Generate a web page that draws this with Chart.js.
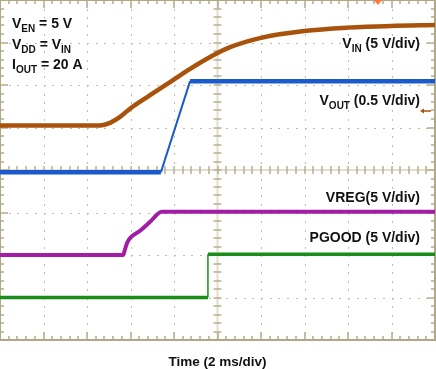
<!DOCTYPE html>
<html>
<head>
<meta charset="utf-8">
<script src="https://cdn.jsdelivr.net/npm/chart.js@4.4.0/dist/chart.umd.min.js"></script>
<style>
  body { margin: 0; background: #fff; }
</style>
</head>
<body>
<canvas id="scopeChart" width="436" height="369"></canvas>
<script>
// traces (x = time divisions, y = vertical divisions from bottom)
const vinX = [0, 2.3, 2.53, 2.76, 3.01, 3.45, 3.91, 4.37, 4.83, 5.29, 6.0, 6.99, 8.0, 8.99, 10];
const vinY = [5.05, 5.05, 5.11, 5.25, 5.46, 5.76, 6.07, 6.38, 6.66, 6.89, 7.11, 7.27, 7.35, 7.39, 7.41];

const voutX = [0, 3.7, 4.37, 10];
const voutY = [3.95, 3.95, 6.09, 6.09];

const vregX = [0, 2.83, 2.87, 2.92, 2.99, 3.22, 3.45, 3.72, 10];
const vregY = [2.0, 2.0, 2.12, 2.28, 2.4, 2.57, 2.78, 3.02, 3.02];

const pgoodX = [0, 4.78, 4.78, 10];
const pgoodY = [1.0, 1.0, 2.02, 2.02];

// text
const noteLines = [
  [['V', 0], ['EN', 1], [' = 5 V', 0]],
  [['V', 0], ['DD', 1], [' = V', 0], ['IN', 1]],
  [['I', 0], ['OUT', 1], [' = 20 A', 0]],
];
const traceLabels = [
  [['V', 0], ['IN', 1], [' (5 V/div)', 0]],
  [['V', 0], ['OUT', 1], [' (0.5 V/div)', 0]],
  [['VREG(5 V/div)', 0]],
  [['PGOOD (5 V/div)', 0]],
];
const xTitle = 'Time (2 ms/div)';

const toPoints = (xs, ys) => xs.map((x, i) => ({ x, y: ys[i] }));

const mainFont = 'bold 14px "Liberation Sans", Arial, sans-serif';
const subFont = 'bold 10px "Liberation Sans", Arial, sans-serif';

// width of a text with subscripts
const measureParts = (ctx, parts) => {
  let w = 0;
  parts.forEach(([t, sub]) => {
    ctx.font = sub ? subFont : mainFont;
    w += ctx.measureText(t).width;
  });
  return w;
};

const drawParts = (ctx, parts, x, y) => {
  parts.forEach(([t, sub]) => {
    ctx.font = sub ? subFont : mainFont;
    ctx.fillText(t, x, sub ? y + 4 : y);
    x += ctx.measureText(t).width;
  });
};

// scope graticule
const scopeGrid = {
  id: 'scopeGrid',
  beforeDatasetsDraw(chart) {
    const { ctx, chartArea: a, scales: { x, y } } = chart;
    ctx.save();

    // dotted grid lines
    ctx.fillStyle = '#c2bca4';
    for (let i = 1; i < 10; i++) {
      if (i === 5) continue;
      const px = Math.round(x.getPixelForValue(i));
      for (let j = 1; j < 40; j++) {
        ctx.fillRect(px, Math.round(y.getPixelForValue(j / 5)), 1, 2);
      }
    }
    for (let i = 1; i < 8; i++) {
      if (i === 4) continue;
      const py = Math.round(y.getPixelForValue(i));
      for (let j = 1; j < 50; j++) {
        ctx.fillRect(Math.round(x.getPixelForValue(j / 5)), py, 2, 1);
      }
    }

    // center crosshair
    const cx = x.getPixelForValue(5);
    const cy = y.getPixelForValue(4);
    ctx.fillStyle = '#e2ddcf';
    ctx.fillRect(cx - 1, a.top, 2, a.bottom - a.top);
    ctx.fillRect(a.left, cy - 1, a.right - a.left, 2);

    ctx.strokeStyle = '#b8b090';
    ctx.lineWidth = 1.5;
    ctx.beginPath();
    for (let j = 1; j < 40; j++) {
      const py = Math.round(y.getPixelForValue(j / 5));
      ctx.moveTo(cx - 4, py);
      ctx.lineTo(cx + 4, py);
    }
    for (let j = 1; j < 50; j++) {
      const px = Math.round(x.getPixelForValue(j / 5));
      ctx.moveTo(px, cy - 4);
      ctx.lineTo(px, cy + 4);
    }
    ctx.stroke();

    // border ticks
    ctx.strokeStyle = '#b4ac8c';
    ctx.lineWidth = 1.5;
    ctx.beginPath();
    for (let j = 1; j < 50; j++) {
      const px = Math.round(x.getPixelForValue(j / 5));
      const len = j % 5 === 0 ? 8 : 4;
      ctx.moveTo(px, a.bottom);
      ctx.lineTo(px, a.bottom - len);
      ctx.moveTo(px, a.top);
      ctx.lineTo(px, a.top + len);
    }
    for (let j = 1; j < 40; j++) {
      const py = Math.round(y.getPixelForValue(j / 5));
      const len = j % 5 === 0 ? 8 : 4;
      ctx.moveTo(a.left, py);
      ctx.lineTo(a.left + len, py);
      ctx.moveTo(a.right, py);
      ctx.lineTo(a.right - len, py);
    }
    ctx.stroke();

    // border
    ctx.strokeStyle = '#b0a884';
    ctx.lineWidth = 2;
    ctx.strokeRect(a.left, a.top, a.right - a.left, a.bottom - a.top);
    ctx.restore();
  },
  afterDatasetsDraw(chart) {
    const { ctx, chartArea: a } = chart;
    ctx.save();
    ctx.fillStyle = '#111';
    ctx.textBaseline = 'alphabetic';

    // test conditions
    const noteY = [28, 49, 69];
    noteLines.forEach((parts, i) => drawParts(ctx, parts, 12, noteY[i]));

    // trace names, right aligned
    const labelY = [48, 105, 202, 242];
    traceLabels.forEach((parts, i) => {
      const w = measureParts(ctx, parts);
      drawParts(ctx, parts, 420 - w, labelY[i]);
    });

    // x title
    ctx.font = 'bold 13.5px "Liberation Sans", Arial, sans-serif';
    ctx.textAlign = 'center';
    ctx.fillText(xTitle, (a.left + a.right) / 2, 366);

    // trigger marker
    ctx.fillStyle = '#ff7a3a';
    ctx.beginPath();
    ctx.moveTo(373, a.top - 1);
    ctx.lineTo(383, a.top - 1);
    ctx.lineTo(378, a.top + 5);
    ctx.closePath();
    ctx.fill();

    // level marker
    ctx.strokeStyle = '#a8520c';
    ctx.fillStyle = '#a8520c';
    ctx.lineWidth = 1.5;
    ctx.beginPath();
    ctx.moveTo(423, 111);
    ctx.lineTo(431, 111);
    ctx.stroke();
    ctx.beginPath();
    ctx.moveTo(420, 111);
    ctx.lineTo(424, 108.5);
    ctx.lineTo(424, 113.5);
    ctx.closePath();
    ctx.fill();
    ctx.restore();
  },
};

const $canvas = document.getElementById('scopeChart').getContext('2d');

const myChart = new Chart($canvas, {
  type: 'line',
  data: {
    datasets: [
      {
        label: 'PGOOD',
        data: toPoints(pgoodX, pgoodY),
        borderColor: '#1a8c1a',
        borderWidth: 3.5,
        segment: { borderWidth: (c) => (c.p0.parsed.x === c.p1.parsed.x ? 1.5 : 3.5) },
      },
      {
        label: 'VREG',
        data: toPoints(vregX, vregY),
        borderColor: '#a21ca6',
        borderWidth: 4,
        cubicInterpolationMode: 'monotone',
      },
      {
        label: 'VOUT',
        data: toPoints(voutX, voutY),
        borderColor: '#1a5acc',
        borderWidth: 4.5,
        segment: { borderWidth: (c) => (c.p1.parsed.y - c.p0.parsed.y > 1 ? 2 : 4.5) },
      },
      {
        label: 'VIN',
        data: toPoints(vinX, vinY),
        borderColor: '#a8520c',
        borderWidth: 4.5,
        cubicInterpolationMode: 'monotone',
      },
    ],
  },
  options: {
    responsive: false,
    animation: false,
    parsing: false,
    elements: { point: { radius: 0 }, line: { tension: 0 } },
    layout: { padding: { top: 0, left: 0, right: 1, bottom: 29 } },
    scales: {
      x: { type: 'linear', min: 0, max: 10, display: false },
      y: { type: 'linear', min: 0, max: 8, display: false },
    },
    plugins: {
      legend: { display: false },
      tooltip: { enabled: false },
    },
  },
  plugins: [scopeGrid],
});
</script>
</body>
</html>
